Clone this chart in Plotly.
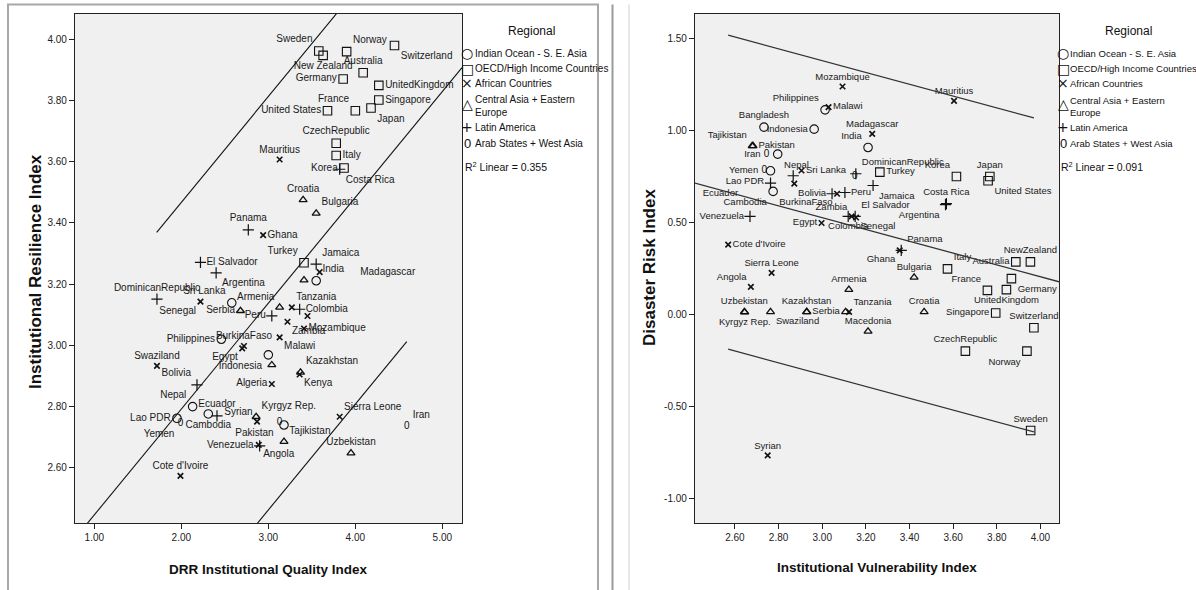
import numpy as np
import plotly.graph_objects as go

W, H = 1196, 590

# ---------------- data: left panel (DRR Institutional Quality vs Institutional Resilience) ----------------
L_NAMES = ["Sweden", "New Zealand", "Norway", "Switzerland", "Australia", "Germany", "UnitedKingdom",
           "Singapore", "Japan", "France", "United States", "CzechRepublic", "Italy", "Korea", "Turkey",
           "Costa Rica", "Panama", "El Salvador", "Argentina", "DominicanRepublic", "Peru", "Colombia",
           "Jamaica", "Bolivia", "Ecuador", "Venezuela",
           "Mauritius", "Ghana", "Senegal", "Tanzania", "Mozambique", "BurkinaFaso", "Egypt", "Malawi",
           "Zambia", "", "\u00a0" * 13 + "Madagascar", "Kenya", "Algeria", "Sierra Leone", "Cote d'Ivoire",
           "Angola", "Swaziland", "Syrian",
           "Sri Lanka", "Philippines", "Indonesia", "India", "Nepal", "Lao PDR", "Cambodia", "",
           "Yemen", "Pakistan", "Iran",
           "Croatia", "Bulgaria", "Serbia", "Armenia", "Kazakhstan", "", "Kyrgyz Rep.", "Uzbekistan",
           "Tajikistan", ""]
L_X = [3.58, 3.63, 3.90, 4.45, 4.09, 3.86, 4.27, 4.27, 4.18, 4.00, 3.68, 3.78, 3.78, 3.87, 3.41,
       3.82, 2.77, 2.22, 2.40, 1.72, 3.04, 3.36, 3.55, 2.18, 2.41, 2.90,
       3.13, 2.94, 2.22, 3.27, 3.41, 2.72, 2.70, 3.13, 3.22, 3.45, 3.59, 3.36, 3.04, 3.82, 1.99,
       2.89, 1.72, 2.87,
       2.58, 2.46, 3.00, 3.55, 2.13, 1.95, 2.31, 3.18,
       1.99, 3.13, 4.59,
       3.40, 3.55, 2.68, 3.13, 3.37, 3.04, 2.86, 3.95, 3.18, 3.41]
L_Y = [3.961, 3.947, 3.959, 3.979, 3.890, 3.870, 3.849, 3.801, 3.775, 3.766, 3.766, 3.660, 3.620, 3.579, 3.270,
       3.575, 3.377, 3.271, 3.237, 3.151, 3.096, 3.118, 3.265, 2.871, 2.770, 2.672,
       3.607, 3.360, 3.143, 3.124, 3.055, 2.998, 2.990, 3.026, 3.077, 3.096, 3.239, 2.905, 2.874, 2.767, 2.574,
       2.675, 2.933, 2.751,
       3.139, 3.020, 2.969, 3.211, 2.800, 2.762, 2.776, 2.740,
       2.744, 2.748, 2.735,
       3.475, 3.431, 3.113, 3.124, 2.912, 2.936, 2.767, 2.648, 2.686, 3.213]
L_REGION = ["OECD"] * 15 + ["LA"] * 11 + ["AF"] * 18 + ["IO"] * 8 + ["AR"] * 3 + ["CA"] * 10

# ---------------- data: right panel (Institutional Vulnerability vs Disaster Risk) ----------------
R_NAMES = ["Sweden", "Norway", "CzechRepublic", "Switzerland", "Singapore", "UnitedKingdom", "Germany",
           "France", "Italy", "Australia", "NewZealand", "Korea", "Japan", "United States", "Turkey",
           "DominicanRepublic", "Peru", "Jamaica", "Costa Rica", "Argentina", "Colombia", "El Salvador",
           "Panama", "Bolivia", "Venezuela", "Ecuador" + "\u00a0" * 10, "",
           "Zambia", "Senegal", "BurkinaFaso", "Egypt", "Mozambique", "Malawi", "Mauritius", "Madagascar",
           "Sri Lanka", "", "Cote d'Ivoire", "Sierra Leone", "Angola", "Ghana", "Tanzania", "Syrian",
           "Philippines", "Bangladesh", "Indonesia", "India", "Nepal", "Lao PDR", "Cambodia",
           "Iran", "Yemen", "",
           "Tajikistan", "Pakistan", "Armenia", "Bulgaria", "Uzbekistan", "Kyrgyz Rep.", "Swaziland",
           "Kazakhstan", "Serbia", "", "Macedonia", "Croatia"]
R_X = [3.955, 3.938, 3.656, 3.970, 3.795, 3.844, 3.867, 3.757, 3.574, 3.887, 3.954, 3.615, 3.768, 3.760, 3.264,
       3.154, 3.104, 3.233, 3.569, 3.565, 3.119, 3.151, 3.362, 3.045, 2.669, 2.763, 2.867,
       3.135, 3.155, 3.068, 2.997, 3.093, 3.029, 3.604, 3.229, 2.905, 2.872, 2.569, 2.768, 2.673, 3.355,
       3.123, 2.750,
       3.013, 2.733, 2.963, 3.210, 2.796, 2.763, 2.775,
       2.745, 2.734, 3.149,
       2.679, 2.683, 3.122, 3.421, 2.643, 2.645, 2.763, 2.928, 2.930, 3.107, 3.210, 3.467]
R_Y = [-0.632, -0.200, -0.200, -0.073, 0.008, 0.135, 0.195, 0.131, 0.248, 0.286, 0.286, 0.751, 0.751, 0.728, 0.775,
       0.766, 0.664, 0.702, 0.603, 0.598, 0.534, 0.534, 0.349, 0.657, 0.534, 0.715, 0.755,
       0.534, 0.528, 0.657, 0.498, 1.241, 1.129, 1.163, 0.983, 0.784, 0.712, 0.380, 0.226, 0.150, 0.349,
       0.014, -0.768,
       1.114, 1.020, 1.009, 0.909, 0.873, 0.782, 0.670,
       0.869, 0.782, 0.751,
       0.918, 0.918, 0.135, 0.202, 0.014, 0.012, 0.014, 0.014, 0.014, 0.014, -0.092, 0.014]
R_REGION = ["OECD"] * 15 + ["LA"] * 12 + ["AF"] * 16 + ["IO"] * 7 + ["AR"] * 3 + ["CA"] * 12

# regression lines (intercept, slope, interval half-width, interval x-range)
L_FIT = dict(a=2.101, b=0.3455, band=0.675, xmin=1.717, xmax=4.591, r2="0.355")
R_FIT = dict(a=1.493, b=-0.322, band=0.855, xmin=2.569, xmax=3.97, r2="0.091")

REGION_ORDER = ["IO", "OECD", "AF", "CA", "LA", "AR"]
REGION_LABELS = {"IO": "Indian Ocean - S. E. Asia", "OECD": "OECD/High Income Countries",
                 "AF": "African Countries", "CA": "Central Asia + Eastern<br>Europe",
                 "LA": "Latin America", "AR": "Arab States + West Asia"}

# ---------------- styles ----------------
L_TEXTPOS = ["top left", "bottom center", "top right", "bottom right", "top center", "middle left", "middle right",
             "middle right", "bottom right", "top left", "middle left", "top center", "middle right", "middle left",
             "top left",
             "bottom right", "top center", "middle right", "bottom right", "top center", "middle left", "middle right",
             "top right", "top left", "top center", "middle left",
             "top center", "middle right", "bottom left", "top right", "middle right", "top center", "bottom left",
             "bottom right", "bottom right", "middle right", "middle right", "bottom right", "middle left",
             "top right", "top center", "bottom right", "top center", "top left",
             "top left", "middle left", "bottom left", "top right", "top left", "middle left", "bottom center",
             "middle right",
             "bottom left", "bottom left", "top right",
             "top center", "top right", "middle left", "top left", "top right", "top center", "top right",
             "top center", "top right", "top center"]
R_TEXTPOS = ["top center", "bottom left", "top center", "top center", "middle left", "bottom center", "bottom right",
             "top left", "top right", "middle left", "top center", "top left", "top center", "bottom right",
             "middle right",
             "top right", "middle right", "bottom right", "top center", "bottom left", "bottom center", "top right",
             "top right", "middle left", "middle left", "bottom left", "middle right",
             "top left", "bottom right", "bottom left", "middle left", "top center", "middle right", "top center",
             "top center", "middle right", "middle right", "middle right", "top center", "top left", "bottom left",
             "top right", "top center",
             "top left", "top center", "middle left", "top left", "bottom right", "bottom left", "bottom left",
             "middle left", "middle left", "middle right",
             "top left", "middle right", "top center", "top center", "top center", "bottom center", "bottom right",
             "top center", "middle right", "middle right", "top center", "top center"]

MARKERS = {
    "IO": dict(symbol="circle-open", size=8.5, line=dict(width=1.1, color="#111")),
    "OECD": dict(symbol="square-open", size=8.5, line=dict(width=1.1, color="#111")),
    "AF": dict(symbol="x-thin-open", size=5.5, line=dict(width=1.6, color="#111")),
    "CA": dict(symbol="triangle-up-open", size=7, line=dict(width=1.3, color="#111")),
    "LA": dict(symbol="cross-thin-open", size=8, line=dict(width=1.2, color="#111")),
    "AR": dict(symbol="circle", size=8, color="rgba(0,0,0,0)"),
}
FONT = "Liberation Sans, Arial, sans-serif"
L_LABEL_FONT = dict(family=FONT, size=10, color="#1a1a1a")
R_LABEL_FONT = dict(family=FONT, size=9.5, color="#1a1a1a")

fig = go.Figure()


def add_panel(names, xs, ys, regions, textpos, xa, ya, label_font):
    names = np.array(names, dtype=object)
    xs = np.array(xs)
    ys = np.array(ys)
    regions = np.array(regions)
    textpos = np.array(textpos, dtype=object)
    for reg in REGION_ORDER:
        m = regions == reg
        mk = dict(MARKERS[reg])
        if "color" not in mk:
            mk["color"] = "#111"
        fig.add_trace(go.Scatter(
            x=xs[m], y=ys[m], mode="markers+text", text=list(names[m]),
            textposition=list(textpos[m]), textfont=label_font, marker=mk,
            cliponaxis=False, showlegend=False, hoverinfo="skip", xaxis=xa, yaxis=ya))
        if reg == "AR":
            fig.add_trace(go.Scatter(
                x=xs[m], y=ys[m], mode="text", text=["0"] * int(m.sum()),
                textposition="middle center",
                textfont=dict(family=FONT, size=10, color="#111"),
                showlegend=False, hoverinfo="skip", xaxis=xa, yaxis=ya))


add_panel(L_NAMES, L_X, L_Y, L_REGION, L_TEXTPOS, "x", "y", L_LABEL_FONT)
add_panel(R_NAMES, R_X, R_Y, R_REGION, R_TEXTPOS, "x2", "y2", R_LABEL_FONT)

L_XRANGE = [0.778, 5.226]
L_YRANGE = [2.42, 4.082]
R_XRANGE = [2.417, 4.085]
R_YRANGE = [-1.136, 1.636]


def add_lines(fit, xrange_, xa, ya, color, width):
    xf = np.array(xrange_)
    fig.add_trace(go.Scatter(x=xf, y=fit["a"] + fit["b"] * xf, mode="lines",
                             line=dict(color=color, width=width), showlegend=False,
                             hoverinfo="skip", xaxis=xa, yaxis=ya))
    xb = np.array([fit["xmin"], fit["xmax"]])
    for s in (1, -1):
        fig.add_trace(go.Scatter(x=xb, y=fit["a"] + fit["b"] * xb + s * fit["band"], mode="lines",
                                 line=dict(color=color, width=width), showlegend=False,
                                 hoverinfo="skip", xaxis=xa, yaxis=ya))


add_lines(L_FIT, L_XRANGE, "x", "y", "#111", 1.1)
add_lines(R_FIT, R_XRANGE, "x2", "y2", "#333", 1.3)


def fmt(v):
    return f"{v:.2f}"


axis_common = dict(showgrid=False, zeroline=False, showline=True, linecolor="#222", linewidth=1.2,
                   mirror=True, ticks="outside", ticklen=5, tickcolor="#222",
                   tickfont=dict(family=FONT, size=10, color="#222"))
L_XT = [1, 2, 3, 4, 5]
L_YT = [2.6, 2.8, 3.0, 3.2, 3.4, 3.6, 3.8, 4.0]
R_XT = [2.6, 2.8, 3.0, 3.2, 3.4, 3.6, 3.8, 4.0]
R_YT = [-1.0, -0.5, 0.0, 0.5, 1.0, 1.5]

fig.update_layout(
    width=W, height=H, autosize=False, margin=dict(l=0, r=0, t=0, b=0),
    paper_bgcolor="white", plot_bgcolor="#F0F0F0",
    xaxis=dict(domain=[75 / W, 462 / W], range=L_XRANGE, anchor="y", tickvals=L_XT,
               ticktext=[fmt(v) for v in L_XT], **axis_common),
    yaxis=dict(domain=[1 - 523 / H, 1 - 14 / H], range=L_YRANGE, anchor="x", tickvals=L_YT,
               ticktext=[fmt(v) for v in L_YT], **axis_common),
    xaxis2=dict(domain=[695 / W, 1059 / W], range=R_XRANGE, anchor="y2", tickvals=R_XT,
                ticktext=[fmt(v) for v in R_XT], **axis_common),
    yaxis2=dict(domain=[1 - 523 / H, 1 - 14 / H], range=R_YRANGE, anchor="x2", tickvals=R_YT,
                ticktext=[fmt(v) for v in R_YT], **axis_common),
    showlegend=False,
)


def P(x, y):
    return x / W, 1 - y / H


ann = []


def text(x, y, s, size=11, bold=False, xanchor="left", yanchor="middle", angle=0, family=FONT, color="#111"):
    xx, yy = P(x, y)
    ann.append(dict(x=xx, y=yy, xref="paper", yref="paper", text=(f"<b>{s}</b>" if bold else s),
                    showarrow=False, xanchor=xanchor, yanchor=yanchor, textangle=angle, align="left",
                    font=dict(family=family, size=size, color=color)))


# axis titles
text(268, 569, "DRR Institutional Quality Index", size=13.5, bold=True, xanchor="center")
text(35, 272, "Institutional Resilience Index", size=17, bold=True, xanchor="center", angle=-90)
text(877, 567, "Institutional Vulnerability Index", size=13.5, bold=True, xanchor="center")
text(650, 268, "Disaster Risk Index", size=17, bold=True, xanchor="center", angle=-90)

# legends
SYMS = {"IO": "○", "OECD": "□", "AF": "×", "CA": "△", "LA": "+", "AR": "0"}
for (sx, tx, cx, r2, fs) in [(467, 473, 531, L_FIT["r2"], 10), (1063, 1068, 1128, R_FIT["r2"], 9.5)]:
    text(cx, 31, "Regional", size=12, xanchor="center")
    ys = [53, 68.5, 83, 100, 127.5, 143.5]
    for reg, yy in zip(REGION_ORDER, ys):
        sym = SYMS[reg]
        sfam = FONT if reg == "AR" else "DejaVu Sans"
        ssize = 13 if reg == "AR" else 14
        text(sx, yy + (4 if reg == "CA" else 0), sym, size=ssize, xanchor="center", family=sfam)
        if reg == "CA":
            text(tx, 106, REGION_LABELS[reg], size=fs, yanchor="middle")
        else:
            text(tx, yy, REGION_LABELS[reg], size=fs)
    text(sx - 4, 166, f"R<sup>2</sup> Linear = {r2}", size=10.5)

fig.update_layout(annotations=ann)

# panel frames
fig.update_layout(shapes=[
    dict(type="rect", xref="paper", yref="paper", x0=8 / W, x1=598 / W, y0=-0.05, y1=1 - 4.5 / H,
         line=dict(color="#A8A8A8", width=2)),
    dict(type="line", xref="paper", yref="paper", x0=612.5 / W, x1=612.5 / W, y0=-0.05, y1=1 - 4.5 / H,
         line=dict(color="#9A9A9A", width=2)),
    dict(type="line", xref="paper", yref="paper", x0=629 / W, x1=629 / W, y0=-0.05, y1=1 - 4.5 / H,
         line=dict(color="#D0D0D0", width=1)),
])

fig.write_html("out.html")
